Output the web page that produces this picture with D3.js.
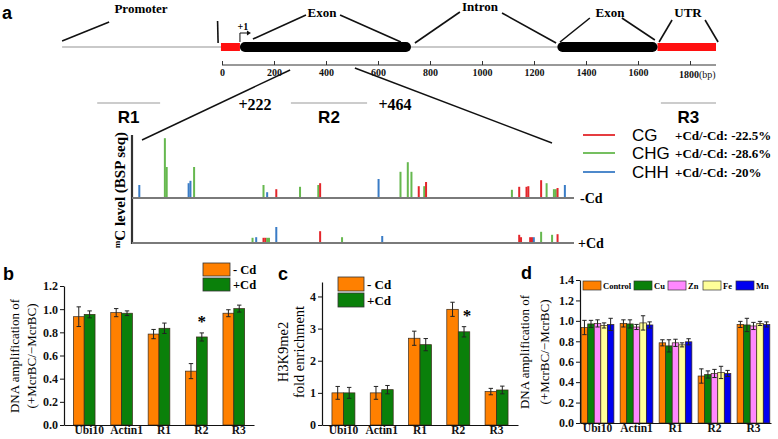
<!DOCTYPE html>
<html><head><meta charset="utf-8">
<script src="https://cdn.jsdelivr.net/npm/d3@7"></script>
<style>body{margin:0;background:#fff}svg{display:block}</style>
</head><body><svg id="chart" width="778" height="439"></svg>
<script>
// ---------------- DATA ----------------
// Panel a: gene structure (bp)
const axisTicksBp = [0, 200, 400, 600, 800, 1000, 1200, 1400, 1600, 1800];
const geneSpan = [-615, 1900];
const utrSegments = [[-4, 69], [1675, 1900]];
const exonSegments = [[69, 727], [1290, 1675]];
const featureLabels = ["Promoter", "Exon", "Intron", "Exon", "UTR"];
const regionNames = ["R1", "R2", "R3"];
const regionStart = [-480, 265, 1688];
const regionEnd = [-238, 558, 1900];
const r2Bounds = ["+222", "+464"];
// methylation contexts
const contexts = ["CG", "CHG", "CHH"];
const contextChange = ["+Cd/-Cd: -22.5%", "+Cd/-Cd: -28.6%", "+Cd/-Cd: -20%"];
// BSP sites in R2: [position bp, context, methylation level %]
const sitesMinusCd = [
  [226,"CHH",20],[240,"CHG",98],[241,"CHG",50],[253,"CHH",23],[254,"CHH",27],[256,"CHG",50],
  [294,"CHG",20],[296,"CHH",8],[301,"CG",13],[314,"CHG",17],[324,"CHG",20],[325,"CG",23],
  [357,"CHH",30],[369,"CHG",42],[373,"CHG",58],[375,"CHG",42],[379,"CG",18],[382,"CHG",18],
  [383,"CG",25],[430,"CHG",12],[434,"CG",17],[438,"CG",17],[439,"CG",18],[446,"CG",28],
  [449,"CHG",23],[453,"CHG",13],[454,"CHG",13],[455,"CG",15],[459,"CHH",20]
];
const sitesPlusCd = [
  [288,"CHG",7],[290,"CHH",8],[294,"CG",7],[295,"CG",7],[296,"CHG",7],[297,"CHG",7],
  [301,"CHH",25],[325,"CG",18],[337,"CHG",8],[359,"CHH",10],[434,"CG",12],[435,"CG",8],
  [440,"CG",8],[441,"CG",8],[442,"CHH",8],[446,"CHG",17],[452,"CHG",12],[455,"CG",13]
];
// Panels b-d
const categories = ["Ubi10", "Actin1", "R1", "R2", "R3"];
const bMinusCd = [0.935, 0.97, 0.785, 0.465, 0.965];
const bMinusCdErr = [0.085, 0.035, 0.04, 0.065, 0.03];
const bPlusCd = [0.955, 0.965, 0.835, 0.76, 1.005];
const bPlusCdErr = [0.03, 0.02, 0.045, 0.035, 0.03];
const bTicks = [0.0, 0.2, 0.4, 0.6, 0.8, 1.0, 1.2];
const cMinusCd = [1.0, 1.0, 2.7, 3.6, 1.04];
const cMinusCdErr = [0.2, 0.2, 0.22, 0.22, 0.1];
const cPlusCd = [1.0, 1.1, 2.5, 2.9, 1.09];
const cPlusCdErr = [0.17, 0.13, 0.19, 0.16, 0.12];
const cTicks = [0, 1, 2, 3, 4];
const dSeries = ["Control", "Cu", "Zn", "Fe", "Mn"];
const dControl = [0.935, 0.975, 0.785, 0.46, 0.965];
const dControlErr = [0.07, 0.035, 0.03, 0.07, 0.03];
const dCu = [0.97, 0.97, 0.755, 0.475, 0.96];
const dCuErr = [0.035, 0.04, 0.06, 0.035, 0.065];
const dZn = [0.975, 0.94, 0.785, 0.485, 0.95];
const dZnErr = [0.035, 0.025, 0.035, 0.04, 0.035];
const dFe = [0.955, 0.98, 0.765, 0.495, 0.975];
const dFeErr = [0.025, 0.07, 0.02, 0.06, 0.02];
const dMn = [0.965, 0.96, 0.795, 0.485, 0.965];
const dMnErr = [0.06, 0.03, 0.03, 0.03, 0.025];
const dTicks = [0.0, 0.2, 0.4, 0.6, 0.8, 1.0, 1.2, 1.4];

// ---------------- STYLE ----------------
const SERIF = "'Liberation Serif','Times New Roman',serif";
const SANS = "'Liberation Sans',Arial,sans-serif";
const ctxColor = {CG: "#e3262b", CHG: "#66b84f", CHH: "#3a7cc6"};
const ORANGE = "#ff8000", GREEN = "#0a800a";
const dColors = ["#ff8000", "#0a800a", "#ff88ff", "#ffff99", "#0000f0"];

const svg = d3.select("#chart");
svg.append("rect").attr("width", 778).attr("height", 439).attr("fill", "#fff");

// ---------------- PANEL A ----------------
const ga = svg.append("g");
ga.append("text").attr("x", 2).attr("y", 19).attr("font-family", SANS)
  .attr("font-weight", "bold").attr("font-size", 18).text("a");

const xg = d3.scaleLinear().domain([0, 1800]).range([222, 690]);
const geneY = 47;
ga.append("line").attr("x1", xg(geneSpan[0])).attr("x2", xg(geneSpan[1]))
  .attr("y1", geneY).attr("y2", geneY).attr("stroke", "#c9c9c9").attr("stroke-width", 2);
ga.selectAll(".utr").data(utrSegments).join("rect")
  .attr("x", d => xg(d[0])).attr("width", d => xg(d[1]) - xg(d[0]))
  .attr("y", geneY - 4).attr("height", 8).attr("fill", "#ff1010");
ga.selectAll(".exon").data(exonSegments).join("rect")
  .attr("x", d => xg(d[0])).attr("width", d => xg(d[1]) - xg(d[0]))
  .attr("y", geneY - 5).attr("height", 10).attr("rx", 5).attr("fill", "#000");

// expansion lines
const expLines = [
  [[-615, 41], [-434, 22], [-17, 21], [-15, 43]],
  [[119, 39], [323, 15], [454, 15], [688, 42]],
  [[742, 43], [915, 12], [1077, 13], [1285, 43]],
  [[1300, 42], [1415, 18], [1538, 18], [1665, 40]],
  [[1681, 42], [1731, 20], [1858, 20], [1908, 42]]
];
const labelPos = [[141, 13], [322, 17], [480, 11], [610, 17], [688, 17]];
expLines.forEach((L, i) => {
  ga.append("line").attr("x1", xg(L[0][0])).attr("y1", L[0][1]).attr("x2", xg(L[1][0])).attr("y2", L[1][1])
    .attr("stroke", "#111").attr("stroke-width", 1.6);
  ga.append("line").attr("x1", xg(L[2][0])).attr("y1", L[2][1]).attr("x2", xg(L[3][0])).attr("y2", L[3][1])
    .attr("stroke", "#111").attr("stroke-width", 1.6);
  ga.append("text").attr("x", labelPos[i][0]).attr("y", labelPos[i][1]).attr("text-anchor", "middle")
    .attr("font-family", SERIF).attr("font-weight", "bold").attr("font-size", 13).text(featureLabels[i]);
});

// +1 transcription start arrow
ga.append("path").attr("d", `M${xg(69)},${geneY - 5}V${33}H${xg(69) + 8}`)
  .attr("fill", "none").attr("stroke", "#111").attr("stroke-width", 1);
ga.append("path").attr("d", `M${xg(69) + 11},33l-4,-2.5v5z`).attr("fill", "#111");
ga.append("text").attr("x", xg(69) + 3).attr("y", 30).attr("text-anchor", "middle")
  .attr("font-family", SERIF).attr("font-weight", "bold").attr("font-size", 10).text("+1");

// bp axis
const axisY = 65;
ga.append("line").attr("x1", xg(0)).attr("x2", xg(1900)).attr("y1", axisY).attr("y2", axisY)
  .attr("stroke", "#333").attr("stroke-width", 1);
const axA = ga.append("g").attr("transform", `translate(0,${axisY})`)
  .call(d3.axisBottom(xg).tickValues(axisTicksBp).tickSize(-4).tickPadding(4)
    .tickFormat(d => d === 1800 ? "" : d));
axA.select(".domain").remove();
axA.selectAll("line").attr("stroke", "#333");
axA.selectAll("text").attr("font-family", SERIF).attr("font-weight", "bold").attr("font-size", 10).attr("fill", "#111");
const lastTick = ga.append("text").attr("x", xg(1800) - 11).attr("y", axisY + 13)
  .attr("font-family", SERIF).attr("font-size", 10).attr("fill", "#111");
lastTick.append("tspan").attr("font-weight", "bold").text("1800");
lastTick.append("tspan").text("(bp)");

// region bars
regionNames.forEach((r, i) => {
  ga.append("line").attr("x1", xg(regionStart[i])).attr("x2", xg(regionEnd[i]))
    .attr("y1", 103).attr("y2", 103).attr("stroke", "#9a9a9a").attr("stroke-width", 1.2);
  ga.append("text").attr("x", (xg(regionStart[i]) + xg(regionEnd[i])) / 2).attr("y", 123)
    .attr("text-anchor", "middle").attr("font-family", SANS).attr("font-weight", "bold")
    .attr("font-size", 17).text(r);
});
ga.append("text").attr("x", 255).attr("y", 110).attr("text-anchor", "middle")
  .attr("font-family", SERIF).attr("font-weight", "bold").attr("font-size", 16).text(r2Bounds[0]);
ga.append("text").attr("x", 395).attr("y", 110).attr("text-anchor", "middle")
  .attr("font-family", SERIF).attr("font-weight", "bold").attr("font-size", 16).text(r2Bounds[1]);

// zoom lines to methylation plot
ga.append("line").attr("x1", xg(262)).attr("y1", 70).attr("x2", 142).attr("y2", 140)
  .attr("stroke", "#111").attr("stroke-width", 1.4);
ga.append("line").attr("x1", xg(511)).attr("y1", 68).attr("x2", 552).attr("y2", 143)
  .attr("stroke", "#111").attr("stroke-width", 1.4);

// methylation plot
const xm = d3.scaleLinear().domain([222, 464]).range([132, 574]);
const hm = d3.scaleLinear().domain([0, 100]).range([0, 60]);
const baseMinus = 198, basePlus = 243;
ga.append("line").attr("x1", 132).attr("x2", 132).attr("y1", 135).attr("y2", basePlus + 1)
  .attr("stroke", "#333").attr("stroke-width", 2.2);
[baseMinus, basePlus].forEach(y => {
  ga.append("line").attr("x1", 132).attr("x2", 574).attr("y1", y).attr("y2", y)
    .attr("stroke", "#7a7a7a").attr("stroke-width", 2);
});
function drawSites(data, base) {
  ga.append("g").selectAll("rect").data(data).join("rect")
    .attr("x", d => xm(d[0]) - 1).attr("width", 2)
    .attr("y", d => base - 1 - hm(d[2])).attr("height", d => hm(d[2]))
    .attr("fill", d => ctxColor[d[1]]);
}
drawSites(sitesMinusCd, baseMinus);
drawSites(sitesPlusCd, basePlus);
ga.append("text").attr("x", 580).attr("y", baseMinus + 5).attr("font-family", SERIF)
  .attr("font-weight", "bold").attr("font-size", 14).text("-Cd");
ga.append("text").attr("x", 578).attr("y", basePlus + 5).attr("font-family", SERIF)
  .attr("font-weight", "bold").attr("font-size", 14).text("+Cd");
const yl = ga.append("text").attr("transform", "translate(125,190) rotate(-90)")
  .attr("text-anchor", "middle").attr("font-family", SERIF).attr("font-weight", "bold").attr("font-size", 15);
yl.append("tspan").attr("font-size", 9).attr("dy", -5).text("m");
yl.append("tspan").attr("dy", 5).text("C level (BSP seq)");

// methylation legend
const legY = [135, 153, 172];
contexts.forEach((c, i) => {
  ga.append("line").attr("x1", 583).attr("x2", 615).attr("y1", legY[i]).attr("y2", legY[i])
    .attr("stroke", ctxColor[c]).attr("stroke-width", 1.8);
  ga.append("text").attr("x", 632).attr("y", legY[i] + 6).attr("font-family", SANS)
    .attr("font-size", 17).text(c);
  ga.append("text").attr("x", 675).attr("y", legY[i] + 5).attr("font-family", SERIF)
    .attr("font-weight", "bold").attr("font-size", 13).text(contextChange[i]);
});

// ---------------- BAR PANELS ----------------
function barPanel(opt) {
  const g = svg.append("g");
  const y = d3.scaleLinear().domain(opt.yDomain).range(opt.yRange);
  const x0 = d3.scaleBand().domain(categories).range(opt.xRange)
    .paddingInner(opt.pi).paddingOuter(opt.po);
  const x1 = d3.scaleBand().domain(d3.range(opt.series.length)).range([0, x0.bandwidth()]);
  opt.series.forEach((s, si) => {
    const gs = g.append("g");
    gs.selectAll("rect").data(s.values).join("rect")
      .attr("x", (d, i) => x0(categories[i]) + x1(si)).attr("width", x1.bandwidth())
      .attr("y", d => y(d)).attr("height", d => y(0) - y(d))
      .attr("fill", s.color).attr("stroke", "#3a2a1a").attr("stroke-width", 0.7);
    const cx = i => x0(categories[i]) + x1(si) + x1.bandwidth() / 2;
    const cap = Math.min(2.2, x1.bandwidth() / 3);
    s.values.forEach((v, i) => {
      const e = s.err[i];
      const p = `M${cx(i)},${y(v + e)}V${y(v - e)}M${cx(i) - cap},${y(v + e)}H${cx(i) + cap}M${cx(i) - cap},${y(v - e)}H${cx(i) + cap}`;
      gs.append("path").attr("d", p).attr("stroke", "#222").attr("stroke-width", 1).attr("fill", "none");
    });
  });
  const ax = g.append("g").attr("transform", `translate(${opt.xRange[0]},0)`)
    .call(d3.axisLeft(y).tickValues(opt.ticks).tickSize(4).tickSizeOuter(0).tickPadding(2).tickFormat(opt.fmt));
  ax.select(".domain").attr("stroke", "#111").attr("stroke-width", 1.2);
  ax.selectAll("line").attr("stroke", "#111");
  ax.selectAll("text").attr("font-family", SERIF).attr("font-weight", "bold").attr("font-size", 12).attr("fill", "#111");
  const bx = g.append("g").attr("transform", `translate(0,${y(0)})`)
    .call(d3.axisBottom(x0).tickSize(0).tickSizeOuter(0).tickPadding(1));
  bx.select(".domain").attr("stroke", "#111").attr("stroke-width", 1.2);
  bx.selectAll("text").attr("font-family", SERIF).attr("font-weight", "bold").attr("font-size", 11.5)
    .attr("fill", "#111").attr("dx", opt.labelDx || 0);
  // y label
  opt.ylab.forEach((t, i) => {
    g.append("text").attr("transform", `translate(${opt.ylabX[i]},${opt.ylabY}) rotate(-90)`)
      .attr("text-anchor", "middle").attr("font-family", SERIF).attr("font-size", opt.ylabSize).text(t);
  });
  g.append("text").attr("x", opt.letter[0]).attr("y", opt.letter[1]).attr("font-family", SANS)
    .attr("font-weight", "bold").attr("font-size", 18).text(opt.letterText);
  return {g, x0, x1, y};
}

// Panel b
const pb = barPanel({
  yDomain: [0, 1.2], yRange: [425, 286], xRange: [64, 254], pi: 0.42, po: 0.25,
  series: [{values: bMinusCd, err: bMinusCdErr, color: ORANGE}, {values: bPlusCd, err: bPlusCdErr, color: GREEN}],
  ticks: bTicks, fmt: d3.format(".1f"),
  ylab: ["DNA amplification of", "(+McrBC/\u2212McrBC)"], ylabX: [19, 36], ylabY: 356, ylabSize: 13,
  letter: [3, 280], letterText: "b", labelDx: 5
});
pb.g.append("text").attr("x", pb.x0("R2") + pb.x1(1) + pb.x1.bandwidth() / 2).attr("y", 327)
  .attr("text-anchor", "middle").attr("font-family", SERIF).attr("font-weight", "bold").attr("font-size", 17).text("*");
[["- Cd", ORANGE, 263], ["+Cd", GREEN, 278]].forEach(l => {
  pb.g.append("rect").attr("x", 203).attr("y", l[2]).attr("width", 27).attr("height", 13)
    .attr("fill", l[1]).attr("stroke", "#333").attr("stroke-width", 0.8);
  pb.g.append("text").attr("x", 233).attr("y", l[2] + 11).attr("font-family", SERIF)
    .attr("font-weight", "bold").attr("font-size", 12.5).text(l[0]);
});

// Panel c
const pc = barPanel({
  yDomain: [0, 4.45], yRange: [425, 282], xRange: [322, 518], pi: 0.4, po: 0.26,
  series: [{values: cMinusCd, err: cMinusCdErr, color: ORANGE}, {values: cPlusCd, err: cPlusCdErr, color: GREEN}],
  ticks: cTicks, fmt: d3.format("d"),
  ylab: ["H3K9me2", "fold enrichment"], ylabX: [288, 304], ylabY: 352, ylabSize: 14.5,
  letter: [278, 280], letterText: "c"
});
pc.g.append("text").attr("x", 467).attr("y", 321)
  .attr("text-anchor", "middle").attr("font-family", SERIF).attr("font-weight", "bold").attr("font-size", 17).text("*");
[["- Cd", ORANGE, 277], ["+Cd", GREEN, 293]].forEach(l => {
  pc.g.append("rect").attr("x", 338).attr("y", l[2]).attr("width", 26).attr("height", 14)
    .attr("fill", l[1]).attr("stroke", "#333").attr("stroke-width", 0.8);
  pc.g.append("text").attr("x", 367).attr("y", l[2] + 12).attr("font-family", SERIF)
    .attr("font-weight", "bold").attr("font-size", 13).text(l[0]);
});

// Panel d
const dVals = [dControl, dCu, dZn, dFe, dMn];
const dErrs = [dControlErr, dCuErr, dZnErr, dFeErr, dMnErr];
const pd = barPanel({
  yDomain: [0, 1.4], yRange: [423, 280], xRange: [580, 771], pi: 0.16, po: 0.03,
  series: dSeries.map((s, i) => ({values: dVals[i], err: dErrs[i], color: dColors[i]})),
  ticks: dTicks, fmt: d3.format(".1f"),
  ylab: ["DNA amplification of", "(+McrBC/\u2212McrBC)"], ylabX: [529, 549], ylabY: 352, ylabSize: 13,
  letter: [521, 279], letterText: "d"
});
const dLegX = [583, 634, 668, 703, 736];
dSeries.forEach((s, i) => {
  pd.g.append("rect").attr("x", dLegX[i]).attr("y", 281).attr("width", 18).attr("height", 9)
    .attr("fill", dColors[i]).attr("stroke", "#333").attr("stroke-width", 0.7);
  pd.g.append("text").attr("x", dLegX[i] + 20).attr("y", 289).attr("font-family", SERIF)
    .attr("font-weight", "bold").attr("font-size", 8.5).text(s);
});
</script></body></html>
